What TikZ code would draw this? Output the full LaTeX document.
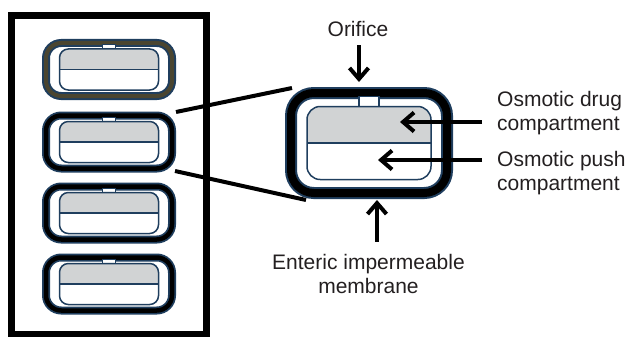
\documentclass[tikz,border=0pt]{standalone}
\usepackage{fontspec}
\setmainfont{Liberation Sans}
\usetikzlibrary{arrows.meta, calc}
\definecolor{shellblue}{HTML}{1F3E5E}
\definecolor{drugfill}{HTML}{D1D3D4}
\definecolor{textgrey}{HTML}{231F20}
\definecolor{shellolive}{HTML}{4A4530}

% #1 centre, #2 half width, #3 half height, #4 outer band, #5 inner band,
% #6 band colour, #7 compartment half width, #8 compartment half height, #9 orifice half width
\newcommand{\capsule}[9]{%
  \begin{scope}[shift={#1}]
    \draw[shellblue, line width=#4pt, rounded corners={1.9*#4pt}] (-#2,-#3) rectangle (#2,#3);
    \draw[#6, line width=#5pt, rounded corners={1.9*#4pt}] (-#2,-#3) rectangle (#2,#3);
    \draw[shellblue, fill=white, line width=1.3pt] (-#9,{-#3+#5/2-0.5}) rectangle (#9,-#8);
    \begin{scope}
      \clip (-#7,-#8) rectangle (#7,0);
      \fill[drugfill, rounded corners={1.1*#4pt}] (-#7,-#8) rectangle (#7,#8);
    \end{scope}
    \draw[shellblue, line width=1.5pt, rounded corners={1.1*#4pt}] (-#7,-#8) rectangle (#7,#8);
    \draw[shellblue, line width=1.5pt] (-#7,0) -- (#7,0);
  \end{scope}}

\begin{document}
\begin{tikzpicture}[x=1pt, y=-1pt,
  label/.style={text=textgrey, inner sep=0pt, font=\fontsize{21}{24}\selectfont},
  pointer/.style={line width=4pt, -{Straight Barb[length=11pt, width=19pt]}},
  zoomline/.style={line width=4pt}]
\useasboundingbox (0,0) rectangle (626,337);

% blister strip
\draw[line width=7pt] (11.5,15.5) rectangle (206,334);
\capsule{(109,69.5)}{63}{26.5}{8}{4}{shellolive}{49.5}{20.5}{6.5}
\foreach \y in {142,213,284}{
  \capsule{(109,\y)}{63}{26.5}{8}{4.5}{black}{49.5}{20.5}{6.5}
}

% enlarged tablet
\capsule{(369,143)}{78}{50}{12}{8}{black}{62}{36.5}{10}

\coordinate (stripA) at (176,112);
\coordinate (stripB) at (175,171);
\coordinate (bigA) at (292,88);
\coordinate (bigB) at (306,200);
\draw[zoomline] (stripA) -- (bigA);
\draw[zoomline] (stripB) -- (bigB);

% labels
\node[label, anchor=base] (lblorifice) at (358,37) {Orifice};
\node[label, anchor=base west, align=left] (lbldrug) at (497,130) {Osmotic drug\\compartment};
\node[label, anchor=base west, align=left] (lblpush) at (497,190) {Osmotic push\\compartment};
\node[label, anchor=base, align=center] (lblmembrane) at (368.5,293) {Enteric impermeable\\membrane};

\coordinate (orificetip) at (359,82);
\coordinate (drugtip) at (400,122);
\coordinate (pushtip) at (378,160);
\coordinate (membranetip) at (377,200);
\draw[pointer, shorten <=8pt] (orificetip |- lblorifice.south) -- (orificetip);
\draw[pointer, shorten <=15pt] (drugtip -| lbldrug.west) -- (drugtip);
\draw[pointer, shorten <=15pt] (pushtip -| lblpush.west) -- (pushtip);
\draw[pointer, shorten <=12pt] (membranetip |- lblmembrane.north) -- (membranetip);
\end{tikzpicture}
\end{document}
